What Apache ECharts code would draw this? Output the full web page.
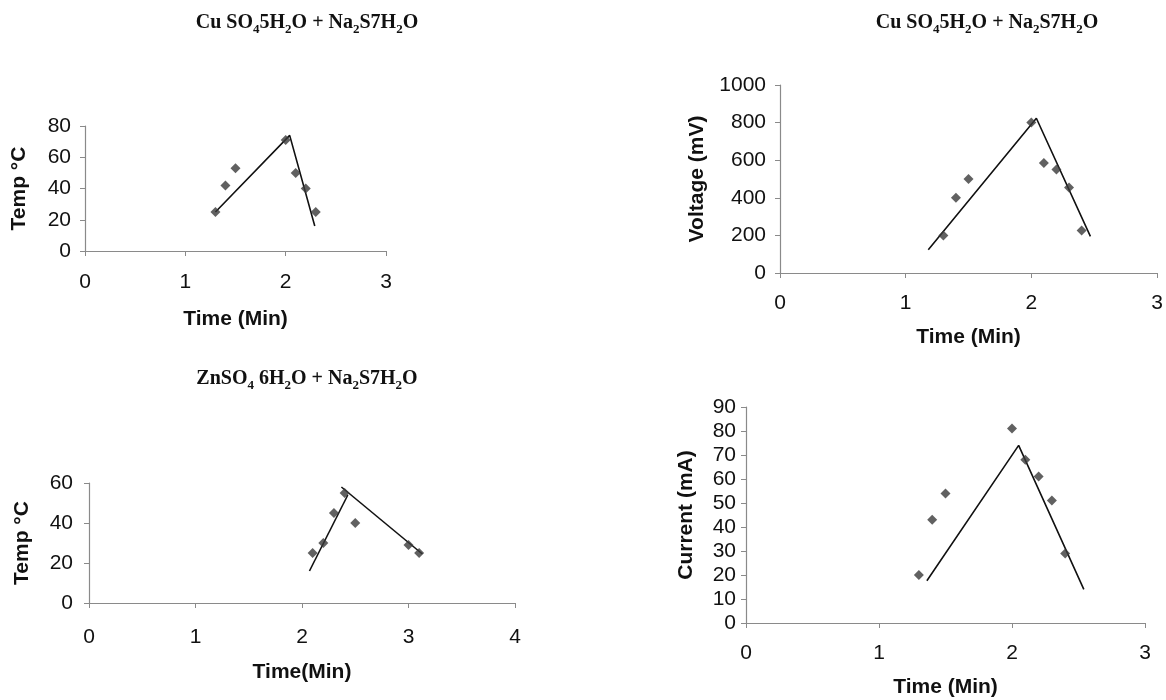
<!DOCTYPE html>
<html>
<head>
<meta charset="utf-8">
<title>Reaction charts</title>
<script src="https://cdn.jsdelivr.net/npm/echarts@6/dist/echarts.min.js"></script>
<style>
  html, body { margin: 0; padding: 0; background: #fff; }
  #chart { width: 1166px; height: 700px; }
</style>
</head>
<body>
<div id="chart"></div>
<script>
// panel 1: CuSO4 temperature
const cuTempTime = [1.3, 1.4, 1.5, 2.0, 2.1, 2.2, 2.3]
const cuTemp = [25, 42, 53, 71, 50, 40, 25]
const cuTempFitTime = [1.3, 2.04, 2.29]
const cuTempFit = [25, 74, 16]

// panel 2: CuSO4 voltage
const cuVoltTime = [1.3, 1.4, 1.5, 2.0, 2.1, 2.2, 2.3, 2.4]
const cuVolt = [200, 400, 500, 800, 585, 550, 455, 226]
const cuVoltFitTime = [1.18, 2.04, 2.47]
const cuVoltFit = [124, 823, 195]

// panel 3: ZnSO4 temperature
const znTempTime = [2.1, 2.2, 2.3, 2.4, 2.5, 3.0, 3.1]
const znTemp = [25, 30, 45, 55, 40, 29, 25]
const znRiseTime = [2.07, 2.43]
const znRise = [16, 54]
const znFallTime = [2.37, 3.13]
const znFall = [58, 24.5]

// panel 4: CuSO4 current
const cuCurTime = [1.3, 1.4, 1.5, 2.0, 2.1, 2.2, 2.3, 2.4]
const cuCur = [20, 43, 54, 81, 68, 61, 51, 29]
const cuCurFitTime = [1.36, 2.05, 2.54]
const cuCurFit = [17.6, 74, 14]

const pair = (xs, ys) => xs.map((x, i) => [x, ys[i]])

const sansFont = '"Liberation Sans", Arial, sans-serif'
const serifFont = '"Liberation Serif", "Times New Roman", serif'
const axisColor = '#8a8a8a'
const markColor = '#3a3a3a'

// 标题（带下标）
const titleRich = {
  n: { fontFamily: serifFont, fontWeight: 'bold', fontSize: 20, color: '#111', lineHeight: 26 },
  s: { fontFamily: serifFont, fontWeight: 'bold', fontSize: 13, color: '#111', lineHeight: 17, verticalAlign: 'bottom' },
}
const cuTitle = '{n|Cu SO}{s|4}{n|5H}{s|2}{n|O + Na}{s|2}{n|S7H}{s|2}{n|O}'
const znTitle = '{n|ZnSO}{s|4}{n| 6H}{s|2}{n|O + Na}{s|2}{n|S7H}{s|2}{n|O}'

const makeTitle = (text, x, y) => ({
  text,
  left: x,
  top: y,
  textAlign: 'center',
  textStyle: { rich: titleRich },
})

const makeX = (gridIndex, max, name, gap, margin) => ({
  type: 'value',
  gridIndex,
  min: 0,
  max,
  interval: 1,
  name,
  nameLocation: 'middle',
  nameGap: gap,
  nameTextStyle: { fontFamily: sansFont, fontWeight: 'bold', fontSize: 21, color: '#111' },
  axisLine: { show: true, lineStyle: { color: axisColor, width: 1.2 } },
  axisTick: { show: true, length: 5, lineStyle: { color: axisColor } },
  axisLabel: { fontFamily: sansFont, fontSize: 21, color: '#111', margin },
  splitLine: { show: false },
})

const makeY = (gridIndex, max, interval, name, gap, margin) => ({
  type: 'value',
  gridIndex,
  min: 0,
  max,
  interval,
  name,
  nameLocation: 'middle',
  nameGap: gap,
  nameTextStyle: { fontFamily: sansFont, fontWeight: 'bold', fontSize: 21, color: '#111' },
  axisLine: { show: true, lineStyle: { color: axisColor, width: 1.2 } },
  axisTick: { show: true, length: 5, lineStyle: { color: axisColor } },
  axisLabel: { fontFamily: sansFont, fontSize: 21, color: '#111', margin, formatter: v => String(v) },
  splitLine: { show: false },
})

const scatter = (idx, data) => ({
  type: 'scatter',
  xAxisIndex: idx,
  yAxisIndex: idx,
  data,
  symbol: 'diamond',
  symbolSize: 10,
  itemStyle: { color: markColor },
  z: 3,
})

const fitLine = (idx, data) => ({
  type: 'line',
  xAxisIndex: idx,
  yAxisIndex: idx,
  data,
  symbol: 'none',
  lineStyle: { color: '#111', width: 1.6 },
  z: 2,
})

const chart = echarts.init(document.getElementById('chart'))

chart.setOption({
  backgroundColor: '#fff',
  animation: false,
  title: [
    makeTitle(cuTitle, 302, 5),
    makeTitle(cuTitle, 982, 5),
    makeTitle(znTitle, 302, 361),
  ],
  grid: [
    { left: 85, top: 126, width: 301, height: 125 },
    { left: 780, top: 85, width: 377, height: 188 },
    { left: 89, top: 483, width: 426, height: 120 },
    { left: 746, top: 407, width: 399, height: 216 },
  ],
  xAxis: [
    makeX(0, 3, 'Time (Min)', 58, 21),
    makeX(1, 3, 'Time (Min)', 54, 20),
    makeX(2, 4, 'Time(Min)', 59, 24),
    makeX(3, 3, 'Time (Min)', 54, 20),
  ],
  yAxis: [
    makeY(0, 80, 20, 'Temp °C', 55, 14),
    makeY(1, 1000, 200, 'Voltage (mV)', 72, 14),
    makeY(2, 60, 20, 'Temp °C', 56, 16),
    makeY(3, 90, 10, 'Current (mA)', 49, 10),
  ],
  series: [
    fitLine(0, pair(cuTempFitTime, cuTempFit)),
    scatter(0, pair(cuTempTime, cuTemp)),
    fitLine(1, pair(cuVoltFitTime, cuVoltFit)),
    scatter(1, pair(cuVoltTime, cuVolt)),
    fitLine(2, pair(znRiseTime, znRise)),
    fitLine(2, pair(znFallTime, znFall)),
    scatter(2, pair(znTempTime, znTemp)),
    fitLine(3, pair(cuCurFitTime, cuCurFit)),
    scatter(3, pair(cuCurTime, cuCur)),
  ],
})

window.addEventListener('resize', () => chart.resize())
</script>
</body>
</html>
